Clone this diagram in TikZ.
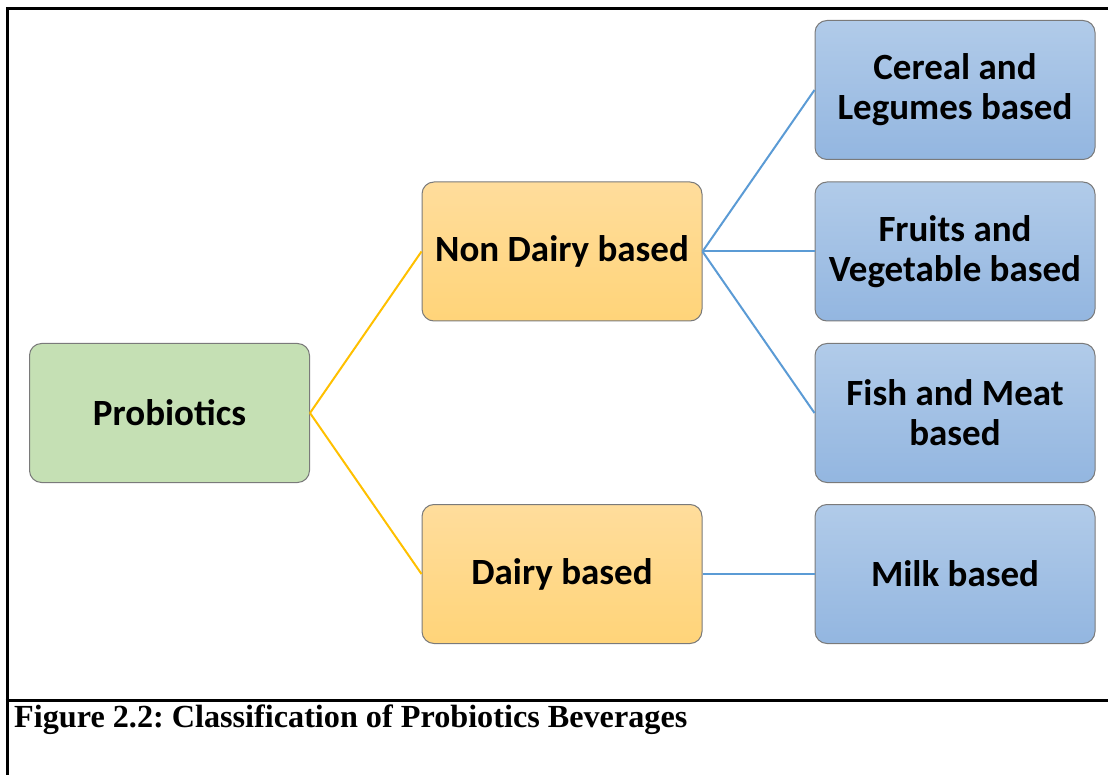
\documentclass[tikz,border=0pt]{standalone}
\usepackage{fontspec}
\setmainfont{Liberation Serif}
\newfontfamily\boxfont{Carlito}
\frenchspacing
\definecolor{framecol}{HTML}{000000}
\definecolor{greenfill}{HTML}{C5E0B4}
\definecolor{goldtop}{HTML}{FFDD9C}
\definecolor{goldbot}{HTML}{FFD479}
\definecolor{bluetop}{HTML}{B1CBE9}
\definecolor{bluebot}{HTML}{93B6E0}
\definecolor{edgegray}{HTML}{7A7A7A}
\definecolor{goldline}{HTML}{FFC000}
\definecolor{blueline}{HTML}{5B9BD5}
\begin{document}
\begin{tikzpicture}[x=1pt,y=-1pt,
  card/.style={draw=edgegray, line width=1pt, rounded corners=12pt,
    minimum width=280pt, minimum height=139pt, inner sep=0pt,
    align=center, font=\boxfont\bfseries\fontsize{37}{40}\selectfont},
  rootcard/.style={card, fill=greenfill},
  midcard/.style={card, top color=goldtop, bottom color=goldbot},
  leafcard/.style={card, top color=bluetop, bottom color=bluebot},
  goldlink/.style={draw=goldline, line width=2pt},
  bluelink/.style={draw=blueline, line width=2pt},
  rule/.style={draw=framecol, line width=3pt}]
  \useasboundingbox (0,0) rectangle (1108,775);
  % outer frame and caption divider
  \draw[rule] (7,775) -- (7,9) -- (1108,9);
  \draw[rule] (5.5,700) -- (1108,700);
  % cards
  \node[rootcard] (root) at (169.5,413) {Probiotics};
  \node[midcard] (nondairy) at (562,251.5) {Non Dairy based};
  \node[midcard] (dairy) at (562,574) {Dairy based};
  \node[leafcard] (cereal) at (955,90) {Cereal and\\Legumes based};
  \node[leafcard] (fruits) at (955,251.5) {Fruits and\\Vegetable based};
  \node[leafcard] (fish) at (955,413) {Fish and Meat\\based};
  \node[leafcard] (milk) at (955,574) {Milk based};
  % connectors
  \draw[goldlink] (root.east) -- (nondairy.west);
  \draw[goldlink] (root.east) -- (dairy.west);
  \draw[bluelink] (nondairy.east) -- (cereal.west);
  \draw[bluelink] (nondairy.east) -- (fruits.west);
  \draw[bluelink] (nondairy.east) -- (fish.west);
  \draw[bluelink] (dairy.east) -- (milk.west);
  % caption
  \node[anchor=base west, inner sep=0pt, font=\bfseries\fontsize{32.2}{36}\selectfont] (caption) at (14,727) {Figure 2.2: Classification of Probiotics Beverages};
\end{tikzpicture}
\end{document}
